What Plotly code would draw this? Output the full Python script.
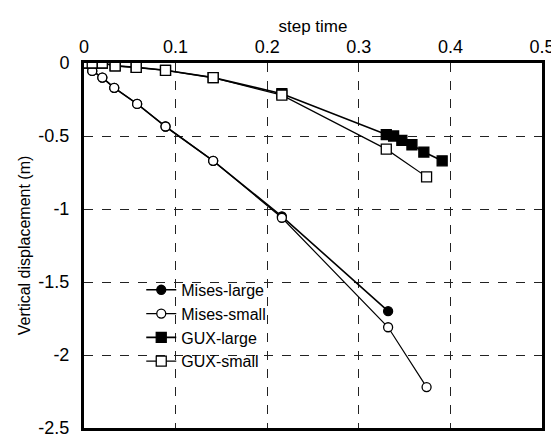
import plotly.graph_objects as go

mises_large_t = [0, 0.009, 0.020, 0.033, 0.058, 0.089, 0.141, 0.216, 0.332]
mises_large_d = [0, -0.054, -0.10, -0.17, -0.28, -0.435, -0.67, -1.05, -1.70]

mises_small_t = [0, 0.009, 0.020, 0.033, 0.058, 0.089, 0.141, 0.216, 0.332, 0.374]
mises_small_d = [0, -0.054, -0.10, -0.17, -0.28, -0.435, -0.67, -1.06, -1.81, -2.22]

gux_large_t = [0, 0.009, 0.020, 0.034, 0.057, 0.089, 0.141, 0.216, 0.330, 0.338, 0.347, 0.358, 0.371, 0.391]
gux_large_d = [0, 0, 0, -0.02, -0.03, -0.05, -0.10, -0.21, -0.49, -0.50, -0.53, -0.56, -0.61, -0.67]

gux_small_t = [0, 0.009, 0.020, 0.034, 0.057, 0.089, 0.141, 0.216, 0.330, 0.374]
gux_small_d = [0, 0, 0, -0.02, -0.03, -0.05, -0.10, -0.22, -0.59, -0.78]

x_ticks = [0, 0.1, 0.2, 0.3, 0.4, 0.5]
y_ticks = [0, -0.5, -1, -1.5, -2, -2.5]

FONT = "Arial, Liberation Sans, sans-serif"

fig = go.Figure()

def add(name, t, d, symbol, fill, size, width):
    fig.add_trace(go.Scatter(
        x=t, y=d, name=name, mode="lines+markers",
        line=dict(color="black", width=width),
        marker=dict(symbol=symbol, size=size, color=fill,
                    line=dict(color="black", width=1.3)),
    ))

add("Mises-large", mises_large_t, mises_large_d, "circle", "black", 9, 1.6)
add("Mises-small", mises_small_t, mises_small_d, "circle", "white", 9, 1.2)
add("GUX-large", gux_large_t, gux_large_d, "square", "black", 10, 1.6)
add("GUX-small", gux_small_t, gux_small_d, "square", "white", 10, 1.2)

axis_common = dict(
    showline=True, linecolor="black", linewidth=3, mirror=True,
    showgrid=True, gridcolor="#222", gridwidth=1, griddash="dash",
    zeroline=False, ticks="", automargin=False,
    tickfont=dict(size=18, color="black", family=FONT),
)

fig.update_layout(
    width=551, height=434,
    margin=dict(l=76, r=17, t=55, b=14),
    paper_bgcolor="white", plot_bgcolor="white",
    font=dict(family=FONT, color="black"),
    xaxis=dict(
        range=[0, 0.5], tickvals=x_ticks, ticktext=[f"{v:g}" for v in x_ticks],
        side="top", ticklabelstandoff=0,
        title=dict(text="step time", font=dict(size=17), standoff=0),
        **axis_common,
    ),
    yaxis=dict(
        range=[-2.5, 0], tickvals=y_ticks, ticktext=[f"{v:g}" for v in y_ticks],
        ticklabelstandoff=8,
        title=dict(text="Vertical displacement (m)", font=dict(size=16), standoff=4),
        **axis_common,
    ),
    legend=dict(
        x=0.125, y=0.425, xanchor="left", yanchor="top",
        bgcolor="rgba(255,255,255,0)", borderwidth=0,
        font=dict(size=16, color="black", family=FONT),
        tracegroupgap=0, itemwidth=30,
    ),
    showlegend=True,
)

fig.write_html("out.html")
